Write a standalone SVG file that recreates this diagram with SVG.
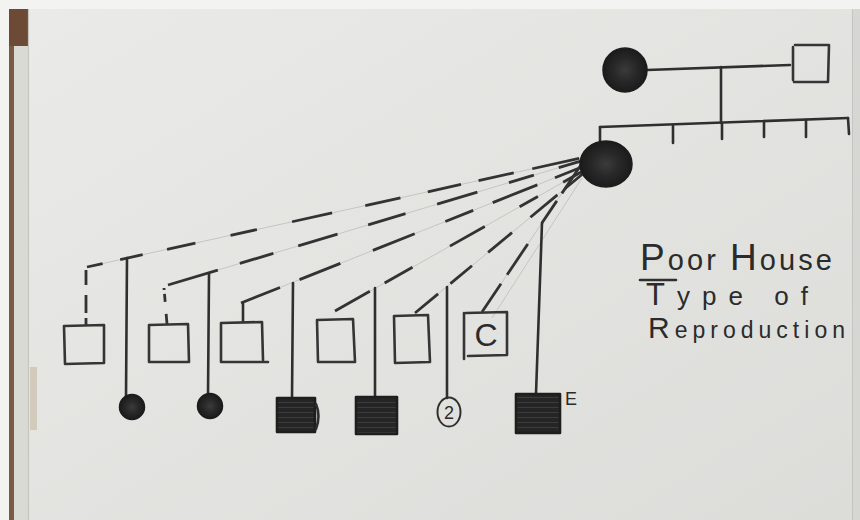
<svg xmlns="http://www.w3.org/2000/svg" width="860" height="520" viewBox="0 0 860 520">
  <defs>
    <linearGradient id="paper" x1="0" y1="0" x2="1" y2="1">
      <stop offset="0" stop-color="#eaebe8"/>
      <stop offset="1" stop-color="#dcddd9"/>
    </linearGradient>
    <radialGradient id="ink" cx="0.5" cy="0.5" r="0.5">
      <stop offset="0" stop-color="#3b3b3b"/>
      <stop offset="0.55" stop-color="#272727"/>
      <stop offset="1" stop-color="#1b1b1b"/>
    </radialGradient>
    <pattern id="scribble" width="9" height="5" patternUnits="userSpaceOnUse">
      <rect width="9" height="5" fill="#252525"/>
      <path d="M0,2.5 H9" stroke="#3c3c3c" stroke-width="1"/>
    </pattern>
  </defs>
  <style>
    .ln { fill: none; stroke: #2f2f2f; stroke-width: 2.6; stroke-linecap: round; }
    .ds { fill: none; stroke: #333333; stroke-width: 2.8; stroke-linecap: butt; }
    .guide { fill: none; stroke: #bdbeba; stroke-width: 0.8; }
    .sq { fill: none; stroke: #353535; stroke-width: 2.6; stroke-linejoin: round; stroke-linecap: round; }
    .fsq { fill: url(#scribble); stroke: #1e1e1e; stroke-width: 2.6; stroke-linejoin: round; }
    .fc { fill: url(#ink); stroke: #1c1c1c; stroke-width: 1.5; }
    .hand { font-family: "Liberation Sans", Arial, sans-serif; fill: #2b2b2b; }
  </style>

  <!-- card and mount -->
  <rect x="0" y="0" width="860" height="520" fill="#f3f3f1"/>
  <rect x="28" y="9" width="832" height="511" fill="url(#paper)"/>
  <rect x="9" y="46" width="19" height="474" fill="#dadad4"/>
  <rect x="9" y="46" width="5" height="474" fill="#7a5a44"/>
  <rect x="9" y="9" width="19" height="37" fill="#6d4a35"/>
  <path d="M28.5,9 V520" stroke="#c6c6c0" stroke-width="1.2"/>
  <rect x="30" y="367" width="7" height="63" fill="#d2cbbb"/>
  <rect x="853" y="9" width="7" height="511" fill="#d6d7d2"/>
  <path d="M852.5,9 V520" stroke="#c4c5c0" stroke-width="1"/>

  <!-- connectors -->
  <g id="connectors">
    <!-- faint pencil guides under the fan -->
    <path class="guide" d="M87,267 L581,158 M168,285 L581,161 M241,303 L582,167 M335,311 L583,171 M415,313 L585,172 M482,312 L583,162 M492,318 L582,178"/>

    <!-- parents and their sibship -->
    <path class="ln" d="M647,70 L790,65"/>
    <path class="ln" d="M721,67 L721,123"/>
    <path class="ln" d="M600,127 L848,118"/>
    <path class="ln" d="M600,127 L600,141 M673,126 L673,143 M722,124 L722,139 M764,122 L764,137 M806,120 L806,137 M848,118 L849,134"/>

    <!-- fan of dashed matings -->
    <path class="ds" d="M87,267 L581,158" stroke-dasharray="16 18 23 25 29 36 27 36 41 34 36 28 34 18 36 19 48 12"/>
    <path class="ds" d="M168,285 L581,161" stroke-dasharray="52 23 35 26 41 32 39 33 42 33 26 26 23 10"/>
    <path class="ds" d="M241,303 L582,167" stroke-dasharray="42 21 44 35 45 33 30 21 48 19 29"/>
    <path class="ds" d="M335,311 L583,171" stroke-dasharray="40 17 32 43 40 40 21 29 23"/>
    <path class="ds" d="M415,313 L585,172" stroke-dasharray="30 16 28 21 31 24 35 10 26"/>
    <path class="ds" d="M482,312 L583,162" stroke-dasharray="34 11 37 25 27 9 38"/>

    <!-- stems to the partners -->
    <path class="ds" d="M86,268 L86,325" stroke-dasharray="0 2 15 10 18 5 7"/>
    <path class="ds" d="M164,288 L167,324" stroke-dasharray="2 4 8 12 12"/>
    <path class="ln" d="M243,303 L243,322"/>

    <!-- lines of descent to the offspring -->
    <path class="ln" d="M127,258 L126,397"/>
    <path class="ln" d="M209,274 L208,396"/>
    <path class="ln" d="M293,283 L292,398"/>
    <path class="ln" d="M375,288 L375,397"/>
    <path class="ln" d="M447,287 L447,398"/>
    <path class="ln" d="M542,223 L536,394"/>
  </g>

  <!-- top generation -->
  <g id="grandmother">
    <ellipse class="fc" cx="625" cy="70" rx="22" ry="22"/>
  </g>
  <g id="grandfather">
    <path class="sq" d="M795,45 L829,45 L828,82 L794,82 M793,47 L793,80"/>
  </g>
  <g id="mother">
    <ellipse class="fc" cx="606" cy="164" rx="26" ry="23"/>
  </g>

  <!-- partners -->
  <g id="partner-1"><path class="sq" d="M64,326 L104,325 L104,363 L65,364 Z"/></g>
  <g id="partner-2"><path class="sq" d="M149,325 L188,324 L189,362 L149,362 Z"/></g>
  <g id="partner-3"><path class="sq" d="M221,323 L262,322 L263,360 M221,323 L221,362 L268,362"/></g>
  <g id="partner-4"><path class="sq" d="M317,320 L353,319 L355,362 L318,362 Z"/></g>
  <g id="partner-5"><path class="sq" d="M394,316 L428,315 L430,362 L395,363 Z"/></g>
  <g id="partner-6">
    <path class="sq" d="M466,313 L507,312 L507,355 L468,356 M464,313 L464,359"/>
    <text class="hand" x="486" y="346" font-size="32" text-anchor="middle">C</text>
  </g>

  <!-- offspring -->
  <g id="child-1"><circle class="fc" cx="132" cy="407" r="12.5"/></g>
  <g id="child-2"><circle class="fc" cx="210" cy="406" r="12.5"/></g>
  <g id="child-3">
    <rect class="fsq" x="277" y="398" width="38" height="34"/>
    <path class="ln" d="M316,404 Q321,416 316,429"/>
  </g>
  <g id="child-4"><rect class="fsq" x="356" y="397" width="41" height="37"/></g>
  <g id="child-5">
    <ellipse cx="449" cy="412" rx="11.5" ry="14.5" fill="none" stroke="#2f2f2f" stroke-width="2"/>
    <text class="hand" x="449" y="419" font-size="18" text-anchor="middle">2</text>
  </g>
  <g id="child-6">
    <rect class="fsq" x="516" y="394" width="44" height="39"/>
    <text class="hand" x="565" y="405" font-size="18">E</text>
  </g>

  <!-- title -->
  <g id="title">
    <text class="hand" x="640" y="270" font-size="29" textLength="192" lengthAdjust="spacing"><tspan font-size="37">P</tspan>oor <tspan font-size="37">H</tspan>ouse</text>
    <path class="ln" d="M640,280 L676,280"/>
    <text class="hand" x="646" y="305" font-size="26" textLength="162" lengthAdjust="spacing"><tspan font-size="31">T</tspan>ype of</text>
    <text class="hand" x="648" y="338" font-size="23" textLength="197" lengthAdjust="spacing"><tspan font-size="30">R</tspan>eproduction</text>
  </g>
</svg>
